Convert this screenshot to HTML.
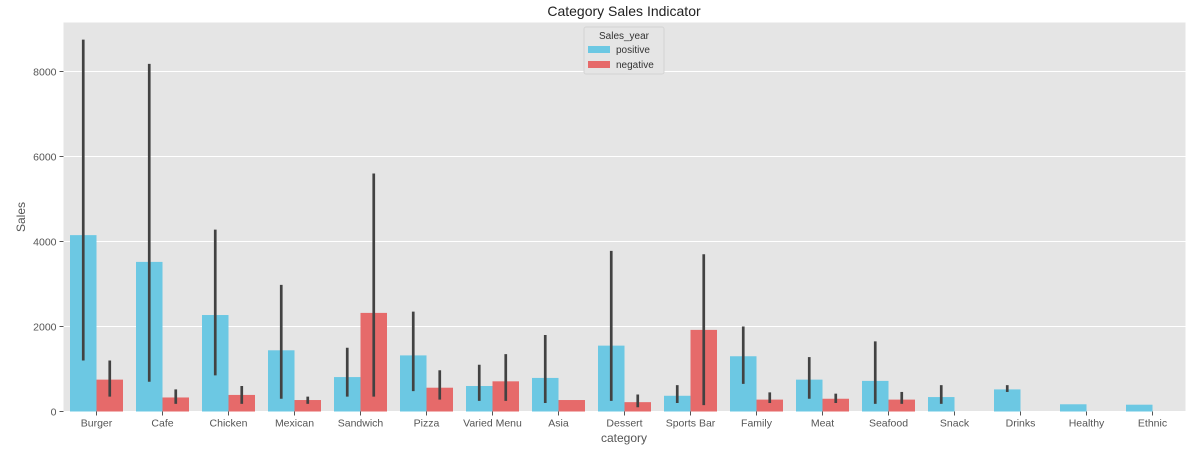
<!DOCTYPE html>
<html><head><meta charset="utf-8"><style>
body{margin:0;background:#fff;font-family:"Liberation Sans","DejaVu Sans",sans-serif}
</style></head><body>
<svg id="chart" width="1195" height="448" xmlns="http://www.w3.org/2000/svg" font-family="Liberation Sans, DejaVu Sans, sans-serif"></svg>
<script>
const categories=["Burger","Cafe","Chicken","Mexican","Sandwich","Pizza","Varied Menu","Asia","Dessert","Sports Bar","Family","Meat","Seafood","Snack","Drinks","Healthy","Ethnic"];
const positiveValues=[4150,3520,2270,1440,810,1320,600,790,1550,370,1300,750,720,340,520,170,160];
const positiveLow=[1200,700,850,300,350,480,250,200,250,200,650,300,180,180,460,170,160];
const positiveHigh=[8750,8180,4280,2980,1500,2350,1100,1800,3780,620,2000,1280,1650,620,620,170,160];
const negativeValues=[750,330,390,270,2320,560,710,270,220,1920,280,300,280,null,null,null,null];
const negativeLow=[350,180,180,180,350,280,250,270,100,150,200,200,180,null,null,null,null];
const negativeHigh=[1200,520,600,350,5600,970,1350,270,400,3700,450,420,460,null,null,null,null];
const yTicks=[0,2000,4000,6000,8000];

const NS="http://www.w3.org/2000/svg";
const svg=document.getElementById("chart");
const L=63.5,R=1185.5,T=22.5,B=411.5;
const step=(R-L)/categories.length;
const y=v=>B-v*(340/8000);
const xc=i=>L+step*(i+0.5);
function mk(tag,attrs,parent){const e=document.createElementNS(NS,tag);for(const k in attrs)e.setAttribute(k,attrs[k]);(parent||svg).appendChild(e);return e;}

const bg=mk("rect",{x:L,y:T,width:R-L,height:B-T,fill:"#e5e5e5"});


yTicks.forEach(t=>{
  const g=mk("line",{x1:L,x2:R,y1:y(t),y2:y(t),stroke:"#fff","stroke-width":1});
  
  
  mk("line",{x1:L-4,x2:L,y1:y(t),y2:y(t),stroke:"#555"});
  const tx=mk("text",{x:L-7,y:y(t)+4,"text-anchor":"end","font-size":10.5,fill:"#555"});
  tx.textContent=t;
  
  
});
const bw=26.5;
function bar(i,v,lo,hi,color,off,name){
  if(v==null)return;
  const x0=xc(i)+off;
  const r=mk("rect",{x:x0,y:y(v),width:bw,height:B-y(v),fill:color});
  
  
  if(hi!=null&&hi!==lo){
    const e=mk("line",{x1:x0+bw/2,x2:x0+bw/2,y1:y(lo),y2:y(hi),stroke:"#424242","stroke-width":2.7});
    
    
  }
}
categories.forEach((c,i)=>{
  bar(i,positiveValues[i],positiveLow[i],positiveHigh[i],"#6cc8e3",-bw,"bar-positive");
  bar(i,negativeValues[i],negativeLow[i],negativeHigh[i],"#e66a6a",0,"bar-negative");
  mk("line",{x1:xc(i),x2:xc(i),y1:B,y2:B+4,stroke:"#555"});
  const tx=mk("text",{x:xc(i),y:B+15,"text-anchor":"middle","font-size":10.5,fill:"#555"});
  tx.textContent=c;
  
  
});
</script>
<svg style="position:absolute;left:0;top:0" width="1195" height="448" xmlns="http://www.w3.org/2000/svg" font-family="Liberation Sans, DejaVu Sans, sans-serif">
<text x="624" y="16" text-anchor="middle" font-size="14" fill="#222">Category Sales Indicator</text>
<text x="624" y="442" text-anchor="middle" font-size="12" fill="#555">category</text>
<text x="25" y="217" text-anchor="middle" font-size="12" fill="#555" transform="rotate(-90 25 217)">Sales</text>
<g>
<rect x="584" y="27" width="80" height="47" rx="2" fill="#e5e5e5" stroke="#d4d4d4"/>
<text x="624" y="39" text-anchor="middle" font-size="10" fill="#333">Sales_year</text>
<rect x="588" y="46" width="22" height="7" fill="#6cc8e3"/>
<text x="616" y="53" font-size="10" fill="#333">positive</text>
<rect x="588" y="61" width="22" height="7" fill="#e66a6a"/>
<text x="616" y="68" font-size="10" fill="#333">negative</text>
</g>
</svg>
</body></html>
